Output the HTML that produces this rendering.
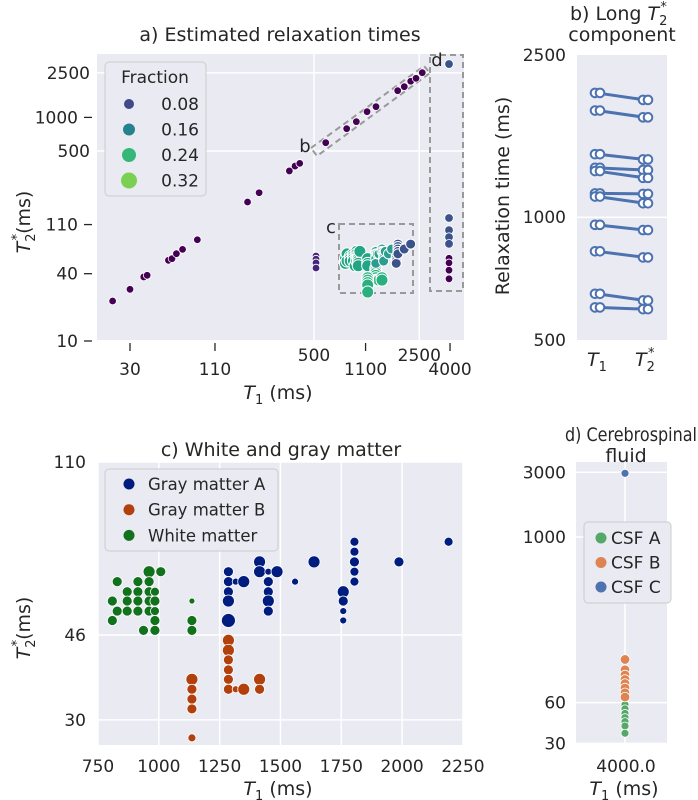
<!DOCTYPE html>
<html><head><meta charset="utf-8">
<style>
body{margin:0;background:#fff;}
svg{display:block;font-family:"DejaVu Sans","Liberation Sans",sans-serif;}
text{fill:#262626;}
</style></head>
<body>
<svg id="fig" width="698" height="800" viewBox="0 0 698 800" xmlns="http://www.w3.org/2000/svg"></svg>
<script>
// ---- Panel a data ----
const diagT1 = [23,30,37,39,54,57,61,67,84,181,216,343,374,402,598,824,955,1125,1290,1797,1988,2193,2378,2617];
const diagT2 = [22.8,29,37.4,38.7,52.7,54.5,60.4,66,80.5,175,212,332,367,388,594,793,916,1125,1247,1734,1883,2105,2237,2512];
const col500T2 = [57.6,54,50,45];
const col4000T2 = [3000,126,98,85,74,55,50,43,36];
const col4000Frac = [0.08,0.08,0.06,0.08,0.08,0.04,0.04,0.04,0.04];
const aXTicks = [30,110,500,1100,2500,4000];
const aYTicks = [10,40,110,500,1000,2500];
const fracLabels = ["0.08","0.16","0.24","0.32"];
// ---- Panel b data ----
const bT1 = [2018,1827,1428,1322,1298,1144,1124,958,825,649,601];
const bT2 = [1940,1758,1386,1306,1249,1141,1082,930,797,625,595];
const bYTicks = [500,1000,2500];
// ---- Panel c data ----
const gmAT1 = [1286,1286,1286,1286,1286,1316,1349,1414,1414,1450,1450,1450,1450,1450,1486,1560,1638,1758,1758,1758,1758,1804,1804,1804,1804,1804,1987,2191];
const gmAT2 = [63.3,60.2,57.2,54.6,49.5,60.2,60.2,66.5,63.3,63.3,60.2,57.2,54.6,51.9,63.3,60.2,66.5,57.2,54.6,51.9,49.5,73.6,70,66.5,63.3,60.2,66.5,73.6];
const gmASize = [5,5,5,6,7,3.5,6,6,6,3.5,5,5,6,5,6,3.5,6,6,5,3.5,3.5,4.5,4.5,5,4.5,4.5,5,4.5];
const gmBT1 = [1286,1286,1286,1286,1286,1286,1316,1349,1414,1414,1136,1136,1136,1136,1136];
const gmBT2 = [44.8,42.6,40.6,38.6,36.8,35.0,35.0,35.0,36.8,35.0,36.8,35.0,33.3,31.7,27.4];
const gmBSize = [6,6,5,5,5,5,3.5,6,6,5,6,5,5,5,4];
const wmT1 = [809,809,829,829,870,870,870,914,914,914,914,937,960,960,960,960,960,984,984,984,984,984,1008,1136,1136,1136];
const wmT2 = [54.6,49.5,60.2,51.9,57.2,54.6,51.9,60.2,57.2,54.6,51.9,47.1,63.3,60.2,57.2,54.6,51.9,57.2,54.6,51.9,49.5,47.1,63.3,54.6,49.5,47.1];
const wmSize = [5,5,5,5,5,5,5,5,5,5,5,5,6,5,5,5,5,4.5,5,4.5,5,5,5,3,5,5];
const cXTicks = [750,1000,1250,1500,1750,2000,2250];
const cYTicks = [30,46,110];
// ---- Panel d data ----
const csfA = [58,54,50,46.5,43.5,40.4,35.7];
const csfB = [125,105,96,89,83,77,71,66];
const csfC = [2950];
const dYTicks = [30,60,1000,3000];

const NS="http://www.w3.org/2000/svg";
const svg=document.getElementById('fig');
function el(tag,attrs,parent){const e=document.createElementNS(NS,tag);for(const k in attrs)e.setAttribute(k,attrs[k]);(parent||svg).appendChild(e);return e;}
function txt(s,x,y,opt,parent){const t=el('text',Object.assign({x:x,y:y,'font-size':17},opt||{}),parent);t.textContent=s;return t;}
const L=Math.log10;
const T1H='<tspan font-style="italic">T</tspan><tspan font-size="13" dy="5">1</tspan><tspan dy="-5"> (ms)</tspan>';
const T2H='<tspan font-style="italic">T</tspan><tspan font-size="13" dy="5">2</tspan><tspan font-size="13" dx="-7" dy="-14">*</tspan><tspan dy="9">(ms)</tspan>';

// axis functions
const aX=v=>130+(L(v)-L(30))*150.6;
const aY=v=>341-(L(v)-1)*111.8;
const bY=v=>55+(L(2500)-L(v))*407.7;
const cX=v=>98+(v-750)*0.2433;
const cY=v=>462+(L(110)-L(v))*457;
const dY=v=>537-(L(v)-3)*135.6;

// ===== Panel a =====
const ga=el('g',{});


el('rect',{x:97,y:54,width:367,height:286,fill:'#eaeaf2'},ga);
[500,2500].forEach(v=>{el('line',{x1:aX(v),x2:aX(v),y1:54,y2:340,stroke:'#fff','stroke-width':1.5},ga);el('line',{x1:97,x2:464,y1:aY(v),y2:aY(v),stroke:'#fff','stroke-width':1.5},ga);});
aYTicks.forEach(v=>{const major=(v==500||v==2500);const t=txt(String(v),major?90:78,aY(v)+6,{'text-anchor':'end'},ga);
 
 if(!major)el('line',{x1:84,x2:92,y1:aY(v),y2:aY(v),stroke:'#262626','stroke-width':1.3},ga);});
aXTicks.forEach(v=>{const major=(v==500||v==2500);const t=txt(String(v),aX(v),major?361:375,{'text-anchor':'middle'},ga);
 
 if(!major)el('line',{x1:aX(v),x2:aX(v),y1:343,y2:351,stroke:'#262626','stroke-width':1.3},ga);});
const axl=txt('',278,399,{'text-anchor':'middle','font-size':19},ga);axl.innerHTML=T1H;

const ayl=txt('',0,0,{'text-anchor':'middle','font-size':19,transform:'translate(30,222) rotate(-90)'},ga);ayl.innerHTML=T2H;

const at=txt('a) Estimated relaxation times',280,41,{'text-anchor':'middle','font-size':19},ga);

// dashed boxes
const dash={fill:'none',stroke:'#999','stroke-width':2,'stroke-dasharray':'6,4'};
const boxB=el('polygon',Object.assign({points:'311,148 424,66 430,73 317,156'},dash),ga);

const boxC=el('rect',Object.assign({x:339,y:224,width:74,height:69},dash),ga);

const boxD=el('rect',Object.assign({x:430,y:55,width:33,height:236},dash),ga);

txt('b',305,152,{'text-anchor':'middle','font-size':18},ga);
txt('c',331,233,{'text-anchor':'middle','font-size':18},ga);
txt('d',437,66,{'text-anchor':'middle','font-size':18},ga);
// points
diagT1.forEach((v,i)=>{const c=el('circle',{cx:aX(v),cy:aY(diagT2[i]),r:3.8,fill:'#440154',stroke:'#fff','stroke-width':0.8},ga);
 });
col500T2.forEach(v=>{const c=el('circle',{cx:aX(500)+2,cy:aY(v),r:3.8,fill:'#46247a',stroke:'#fff','stroke-width':0.8},ga);
 });
col4000T2.forEach((v,i)=>{const c=el('circle',{cx:aX(4000)-1,cy:aY(v),r:col4000Frac[i]>0.05?4.3:3.8,fill:col4000Frac[i]>0.05?'#3b528b':'#440154',stroke:'#fff','stroke-width':0.8},ga);
 });
function aClust(T1,T2,col,r){T1.forEach((v,i)=>{const c=el('circle',{cx:aX(v),cy:aY(T2[i]),r:r,fill:typeof col=='function'?col(v):col,stroke:'#fff','stroke-width':1},ga);
 });}
aClust(wmT1,wmT2,'#21a585',6);
aClust(gmBT1,gmBT2,'#2ab07f',6);
aClust(gmAT1,gmAT2,v=>v>1700?'#3b528b':'#2a9d8e',5);
// legend a
const lga=el('g',{},ga);
el('rect',{x:105,y:62,width:101,height:134,rx:4,fill:'#eaeaf2',stroke:'#ccc','stroke-width':1},lga);
txt('Fraction',155,83,{'text-anchor':'middle','font-size':17},lga);
const fc=['#3e4a89','#26828e','#35b779','#7ad151'],fr=[5,6,7,8];
fracLabels.forEach((s,i)=>{const y=104+i*25.5;const c=el('circle',{cx:129,cy:y,r:fr[i],fill:fc[i]},lga);
 
 txt(s,199,y+6,{'text-anchor':'end','font-size':17},lga);});

// ===== Panel b =====
const gb=el('g',{});


el('rect',{x:577,y:55,width:90,height:285,fill:'#eaeaf2'},gb);
el('line',{x1:577,x2:667,y1:bY(1000),y2:bY(1000),stroke:'#fff','stroke-width':1.5},gb);
bYTicks.forEach(v=>{const t=txt(String(v),566,bY(v)+6,{'text-anchor':'end'},gb);});
const bt1=txt('',570,20,{'font-size':19},gb);bt1.innerHTML='b) Long <tspan font-style="italic">T</tspan><tspan font-size="13" dy="5">2</tspan><tspan font-size="13" dx="-7" dy="-14">*</tspan>';

txt('component',622,41,{'text-anchor':'middle','font-size':19},gb);
const byl=txt('Relaxation time (ms)',0,0,{'text-anchor':'middle','font-size':19,transform:'translate(509,196) rotate(-90)'},gb);

const bx1=txt('',597,366,{'text-anchor':'middle','font-size':19},gb);bx1.innerHTML='<tspan font-style="italic">T</tspan><tspan font-size="13" dy="5">1</tspan>';
const bx2=txt('',645,366,{'text-anchor':'middle','font-size':19},gb);bx2.innerHTML='<tspan font-style="italic">T</tspan><tspan font-size="13" dy="5">2</tspan><tspan font-size="13" dx="-7" dy="-14">*</tspan>';
bT1.forEach((v,i)=>{const ln=el('line',{x1:597,y1:bY(v),x2:645,y2:bY(bT2[i]),stroke:'#4c72b0','stroke-width':3},gb);
 
 [[595,v],[600,v],[643,bT2[i]],[648,bT2[i]]].forEach(p=>{const c=el('circle',{cx:p[0],cy:bY(p[1]),r:4.3,fill:'#fff',stroke:'#4c72b0','stroke-width':2},gb);
  });});

// ===== Panel c =====
const gc=el('g',{});


el('rect',{x:98,y:462,width:365,height:283,fill:'#eaeaf2'},gc);
cXTicks.forEach(v=>{el('line',{x1:cX(v),x2:cX(v),y1:462,y2:745,stroke:'#fff','stroke-width':1.5},gc);
 const t=txt(String(v),cX(v),772,{'text-anchor':'middle'},gc);});
cYTicks.forEach(v=>{el('line',{x1:98,x2:463,y1:cY(v),y2:cY(v),stroke:'#fff','stroke-width':1.5},gc);
 const t=txt(String(v),86,cY(v)+6,{'text-anchor':'end'},gc);});
const ct=txt('c) White and gray matter',281,456,{'text-anchor':'middle','font-size':19},gc);
const cxl=txt('',278,795,{'text-anchor':'middle','font-size':19},gc);cxl.innerHTML=T1H;

const cyl=txt('',0,0,{'text-anchor':'middle','font-size':19,transform:'translate(30,628) rotate(-90)'},gc);cyl.innerHTML=T2H;

function cPts(T1,T2,S,col,name){T1.forEach((v,i)=>{const c=el('circle',{cx:cX(v),cy:cY(T2[i]),r:S[i],fill:col,stroke:'#fff','stroke-width':0.8},gc);
 });}
cPts(wmT1,wmT2,wmSize,'#12711c','c-point-white-matter');
cPts(gmBT1,gmBT2,gmBSize,'#b1400d','c-point-gray-matter-b');
cPts(gmAT1,gmAT2,gmASize,'#001c7f','c-point-gray-matter-a');
const lgc=el('g',{},gc);
el('rect',{x:105,y:469,width:173,height:82,rx:4,fill:'#eaeaf2',stroke:'#ccc','stroke-width':1},lgc);
[['Gray matter A','#001c7f'],['Gray matter B','#b1400d'],['White matter','#12711c']].forEach((e,i)=>{const y=484+i*25.7;
 const c=el('circle',{cx:129,cy:y,r:5.5,fill:e[1]},lgc);
 txt(e[0],148,y+6,{'font-size':16.5},lgc);});

// ===== Panel d =====
const gd=el('g',{});


el('rect',{x:576,y:462,width:91,height:281,fill:'#eaeaf2'},gd);
el('line',{x1:625,x2:625,y1:462,y2:743,stroke:'#fff','stroke-width':1.5},gd);
dYTicks.forEach(v=>{el('line',{x1:576,x2:667,y1:dY(v),y2:dY(v),stroke:'#fff','stroke-width':1.5},gd);
 const t=txt(String(v),566,dY(v)+6,{'text-anchor':'end'},gd);});
const dt=txt('d) Cerebrospinal',565,441,{'font-size':19,textLength:132,lengthAdjust:'spacingAndGlyphs'},gd);
txt('fluid',626,462,{'text-anchor':'middle','font-size':19},gd);
txt('4000.0',626,772,{'text-anchor':'middle'},gd);
const dxl=txt('',624,795,{'text-anchor':'middle','font-size':19},gd);dxl.innerHTML=T1H;

function dPts(arr,col,r,name){arr.forEach(v=>{const c=el('circle',{cx:625,cy:dY(v),r:r,fill:col,stroke:'#fff','stroke-width':0.8},gd);
 });}
dPts(csfA,'#55a868',4,'d-point-csf-a');
dPts(csfB,'#dd8452',4.8,'d-point-csf-b');
dPts(csfC,'#4c72b0',4,'d-point-csf-c');
const lgd=el('g',{},gd);
el('rect',{x:584,y:522,width:87,height:81,rx:4,fill:'#eaeaf2',stroke:'#ccc','stroke-width':1},lgd);
[['CSF A','#55a868'],['CSF B','#dd8452'],['CSF C','#4c72b0']].forEach((e,i)=>{const y=538+i*24.5;
 const c=el('circle',{cx:601,cy:y,r:5.5,fill:e[1]},lgd);
 txt(e[0],611,y+6,{'font-size':17},lgd);});
</script>
</body></html>
